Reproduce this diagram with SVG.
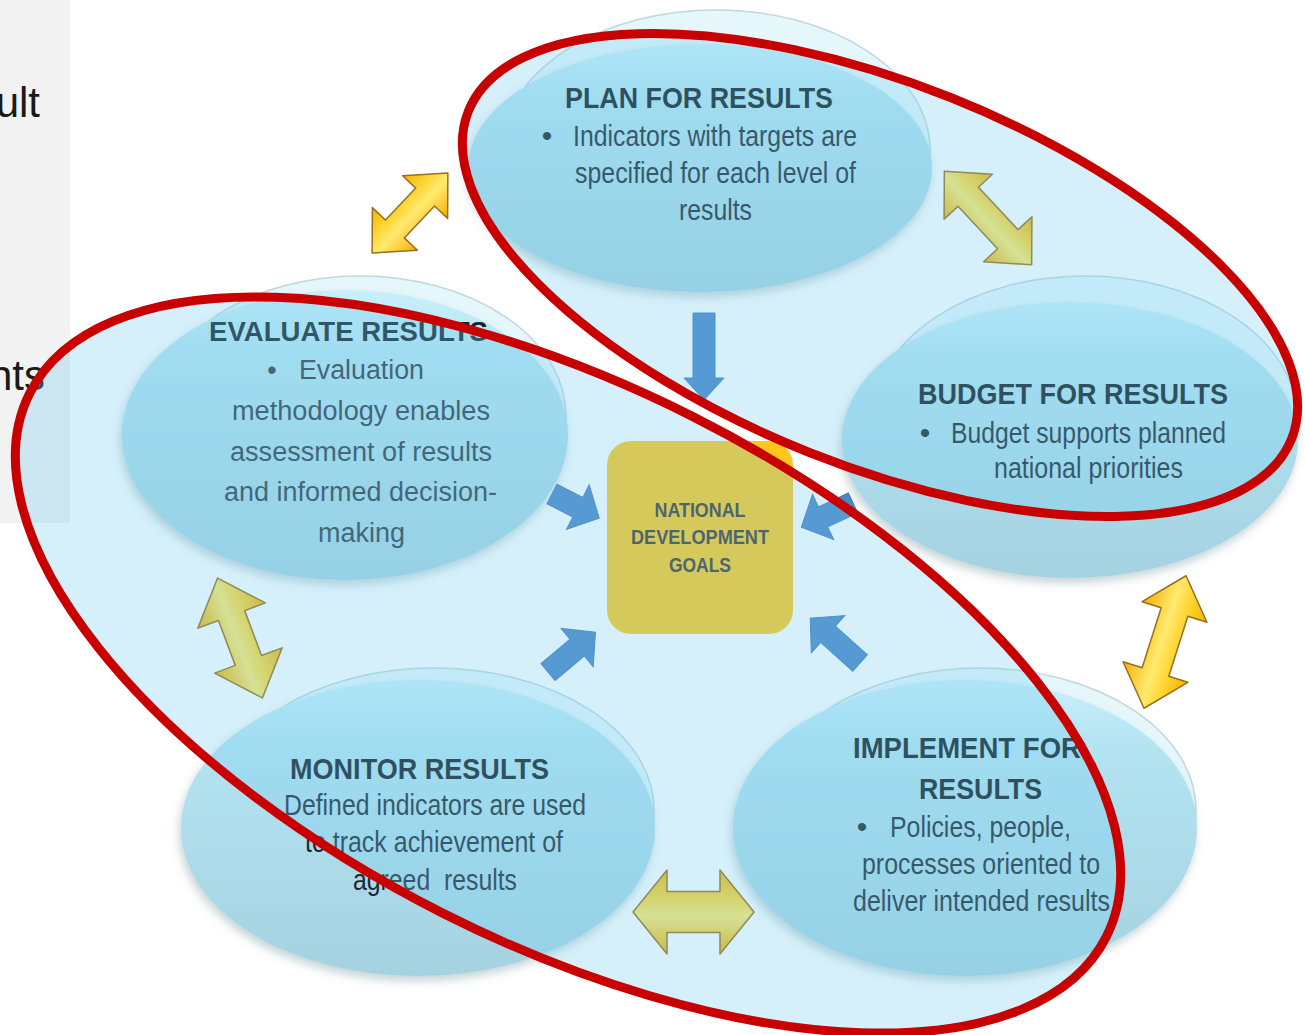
<svg xmlns="http://www.w3.org/2000/svg" width="1305" height="1035" viewBox="0 0 1305 1035">
<defs>
<style>
.halo{fill:#e6f7fc;stroke:#bfd7de;stroke-width:1.5}
.body{fill:url(#gBody);filter:url(#sh)}
.t{font-family:"Liberation Sans",Arial,sans-serif;font-size:30px;fill:#1c2832}
.b{font-weight:bold;fill:#101a22}
.e{font-size:27px;fill:#2e3b46}
.eb{font-size:27px;font-weight:bold;fill:#16232c}
.bx{font-family:"Liberation Sans",Arial,sans-serif;font-size:20px;font-weight:bold;fill:#3a3a3a}
.ya{fill:url(#gYel);stroke:#9a6e1a;stroke-width:1.5;stroke-linejoin:round}
.ba{fill:#4a85c8;stroke:#3f78b8;stroke-width:1}
.hl{fill:#73cdee;fill-opacity:0.3;stroke:#c80000;stroke-width:9}
.side{font-family:"Liberation Sans",Arial,sans-serif;font-size:42px;fill:#1a1a1a}
</style>
<linearGradient id="gBody" x1="0" y1="0" x2="0" y2="1">
<stop offset="0" stop-color="#c8f0fb"/>
<stop offset="0.22" stop-color="#b4e3f2"/>
<stop offset="1" stop-color="#a4d2e1"/>
</linearGradient>
<linearGradient id="gYel" x1="0" y1="0" x2="0" y2="1">
<stop offset="0" stop-color="#f4b400"/>
<stop offset="0.35" stop-color="#ffd83a"/>
<stop offset="0.55" stop-color="#ffea70"/>
<stop offset="1" stop-color="#f2b000"/>
</linearGradient>
<filter id="sh" x="-10%" y="-10%" width="120%" height="130%">
<feDropShadow dx="-2" dy="5" stdDeviation="5" flood-color="#5a7f8c" flood-opacity="0.35"/>
</filter>
</defs>
<rect width="1305" height="1035" fill="#ffffff"/>
<g id="side-panel">
<rect x="0" y="0" width="70" height="523" fill="#f2f2f2"/>
<text class="side" x="40" y="117" text-anchor="end">ult</text>
<text class="side" x="45" y="390" text-anchor="end">nts</text>
</g>
<g id="node-plan">
<ellipse class="halo" cx="716" cy="150" rx="214" ry="140"/>
<ellipse class="body" cx="700" cy="168" rx="232" ry="124"/>
<text class="t b" x="565" y="108" textLength="268" lengthAdjust="spacingAndGlyphs">PLAN FOR RESULTS</text>
<text class="t" x="547" y="146" text-anchor="middle">•</text>
<text class="t" x="573" y="146" textLength="284" lengthAdjust="spacingAndGlyphs">Indicators with targets are</text>
<text class="t" x="575" y="183" textLength="281" lengthAdjust="spacingAndGlyphs">specified for each level of</text>
<text class="t" x="679" y="220" textLength="73" lengthAdjust="spacingAndGlyphs">results</text>
</g>
<g id="node-budget">
<ellipse class="halo" cx="1085" cy="418" rx="212" ry="142"/>
<ellipse class="body" cx="1070" cy="440" rx="228" ry="138"/>
<text class="t b" x="918" y="404" textLength="310" lengthAdjust="spacingAndGlyphs">BUDGET FOR RESULTS</text>
<text class="t" x="925" y="443" text-anchor="middle">•</text>
<text class="t" x="951" y="443" textLength="275" lengthAdjust="spacingAndGlyphs">Budget supports planned</text>
<text class="t" x="994" y="478" textLength="189" lengthAdjust="spacingAndGlyphs">national priorities</text>
</g>
<g id="node-evaluate">
<ellipse class="halo" cx="360" cy="416" rx="206" ry="140"/>
<ellipse class="body" cx="345" cy="435" rx="223" ry="145"/>
<text class="t eb" x="209" y="341" textLength="279" lengthAdjust="spacingAndGlyphs">EVALUATE RESULTS</text>
<text class="t e" x="272" y="379" text-anchor="middle">•</text>
<text class="t e" x="299" y="379" textLength="125" lengthAdjust="spacingAndGlyphs">Evaluation</text>
<text class="t e" x="232" y="420" textLength="258" lengthAdjust="spacingAndGlyphs">methodology enables</text>
<text class="t e" x="230" y="461" textLength="262" lengthAdjust="spacingAndGlyphs">assessment of results</text>
<text class="t e" x="224" y="501" textLength="273" lengthAdjust="spacingAndGlyphs">and informed decision-</text>
<text class="t e" x="318" y="542" textLength="87" lengthAdjust="spacingAndGlyphs">making</text>
</g>
<g id="node-monitor">
<ellipse class="halo" cx="434" cy="810" rx="220" ry="142"/>
<ellipse class="body" cx="418" cy="828" rx="237" ry="148"/>
<text class="t b" x="290" y="779" textLength="259" lengthAdjust="spacingAndGlyphs">MONITOR RESULTS</text>
<text class="t" x="284" y="815" textLength="302" lengthAdjust="spacingAndGlyphs">Defined indicators are used</text>
<text class="t" x="305" y="852" textLength="258" lengthAdjust="spacingAndGlyphs">to track achievement of</text>
<text class="t" x="353" y="890" textLength="164" lengthAdjust="spacingAndGlyphs" xml:space="preserve">agreed  results</text>
</g>
<g id="node-implement">
<ellipse class="halo" cx="980" cy="810" rx="216" ry="142"/>
<ellipse class="body" cx="965" cy="828" rx="232" ry="148"/>
<text class="t b" x="853" y="758" textLength="228" lengthAdjust="spacingAndGlyphs">IMPLEMENT FOR</text>
<text class="t b" x="919" y="799" textLength="123" lengthAdjust="spacingAndGlyphs">RESULTS</text>
<text class="t" x="862" y="837" text-anchor="middle">•</text>
<text class="t" x="890" y="837" textLength="181" lengthAdjust="spacingAndGlyphs">Policies, people,</text>
<text class="t" x="862" y="874" textLength="238" lengthAdjust="spacingAndGlyphs">processes oriented to</text>
<text class="t" x="853" y="911" textLength="257" lengthAdjust="spacingAndGlyphs">deliver intended results</text>
</g>
<g id="connectors">
<polygon class="ya" transform="translate(410,213) rotate(-46.5)" points="-55,0 -22,-31 -22,-13 22,-13 22,-31 55,0 22,31 22,13 -22,13 -22,31"/>
<polygon class="ya" transform="translate(988,218) rotate(47)" points="-64,0 -29,-33 -29,-14 29,-14 29,-33 64,0 29,33 29,14 -29,14 -29,33"/>
<polygon class="ya" transform="translate(240,638) rotate(69.5)" points="-64,0 -24,-36 -24,-14 24,-14 24,-36 64,0 24,36 24,14 -24,14 -24,36"/>
<polygon class="ya" transform="translate(1165,642) rotate(107.6)" points="-69.5,0 -31.5,-34 -31.5,-14 31.5,-14 31.5,-34 69.5,0 31.5,34 31.5,14 -31.5,14 -31.5,34"/>
<polygon class="ya" transform="translate(693.5,912)" points="-60.5,0 -26.5,-42 -26.5,-20.5 26.5,-20.5 26.5,-42 60.5,0 26.5,42 26.5,20.5 -26.5,20.5 -26.5,42"/>
<polygon class="ba" transform="translate(704,313) rotate(90)" points="0,-11 65,-11 65,-20 87,0 65,20 65,11 0,11"/>
<polygon class="ba" transform="translate(552,494) rotate(27)" points="0,-11 29,-11 29,-25 53,0 29,25 29,11 0,11"/>
<polygon class="ba" transform="translate(853,503) rotate(155)" points="0,-11 33,-11 33,-25 57,0 33,25 33,11 0,11"/>
<polygon class="ba" transform="translate(548,672) rotate(-40)" points="0,-11 38,-11 38,-25 62,0 38,25 38,11 0,11"/>
<polygon class="ba" transform="translate(860,663) rotate(-138)" points="0,-11 43,-11 43,-25 67,0 43,25 43,11 0,11"/>
</g>
<g id="node-goals">
<rect x="607" y="441" width="186" height="193" rx="24" fill="#ffc71d"/>
<text class="bx" x="700" y="517" text-anchor="middle" textLength="91" lengthAdjust="spacingAndGlyphs">NATIONAL</text>
<text class="bx" x="700" y="544" text-anchor="middle" textLength="138" lengthAdjust="spacingAndGlyphs">DEVELOPMENT</text>
<text class="bx" x="700" y="572" text-anchor="middle" textLength="62" lengthAdjust="spacingAndGlyphs">GOALS</text>
</g>
<g id="highlights">
<ellipse class="hl" cx="880" cy="275" rx="443" ry="191" transform="rotate(21.7 880 275)"/>
<ellipse class="hl" cx="568" cy="665" rx="603" ry="278" transform="rotate(26.8 568 665)"/>
</g>
</svg>
